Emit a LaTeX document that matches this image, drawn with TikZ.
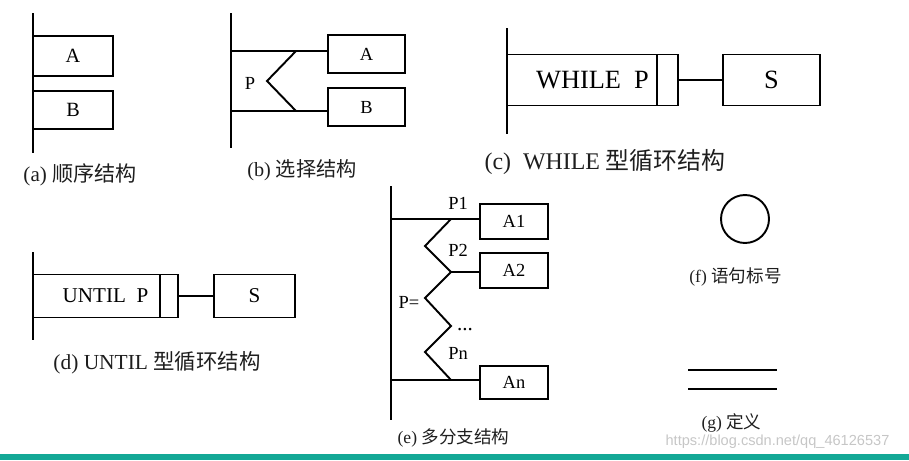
\documentclass[tikz,border=0pt]{standalone}
\usepackage{fontspec}
\setmainfont{Liberation Serif}
\newfontfamily\cjk{Noto Sans CJK SC}
\newfontfamily\wmfont{Liberation Sans}
\usepackage{tikz}
\usetikzlibrary{positioning, calc}
\definecolor{barteal}{RGB}{20,168,150}
\definecolor{inkgray}{RGB}{30,30,30}
\newcommand{\fsz}[1]{\fontsize{#1}{#1}\selectfont}
\tikzset{
	stmtbox/.style={draw, line width=1.1pt, inner sep=0pt, outer sep=0pt, anchor=west},
	flowline/.style={line width=1.1pt},
	caption/.style={inner sep=0pt, text=inkgray},
}

\begin{document}
\begin{tikzpicture}[x=0.02cm, y=-0.02cm]
	\useasboundingbox (0,0) rectangle (909,460);
	% (a) sequence
	\coordinate (a top) at (33,13);
	\coordinate (a bot) at (33,153);
	\draw[flowline] (a top) -- (a bot);
	\node[stmtbox, minimum width=1.6cm, minimum height=0.8cm, font=\fsz{11.5}] (aA) at (33,56) {A};
	\node[stmtbox, minimum width=1.6cm, minimum height=0.76cm, font=\fsz{11.5}] (aB) at (33,110) {B};
	\node[caption, font=\fsz{12}] (a cap) at (80,175) {(a) {\cjk 顺序结构}};
	% (b) selection
	\coordinate (b top) at (231,13);
	\coordinate (b bot) at (231,148);
	\draw[flowline] (b top) -- (b bot);
	\node[stmtbox, minimum width=1.54cm, minimum height=0.76cm, font=\fsz{10.5}] (bA) at (328,54) {A};
	\node[stmtbox, minimum width=1.54cm, minimum height=0.76cm, font=\fsz{10.5}] (bB) at (328,107) {B};
	\coordinate (b l1) at (231,51);
	\coordinate (b l2) at (231,111);
	\coordinate (b k1) at (296,51);
	\coordinate (b k2) at (267,81);
	\coordinate (b k3) at (296,111);
	\draw[flowline] (b l1) -- (b l1 -| bA.west);
	\draw[flowline] (b l2) -- (b l2 -| bB.west);
	\draw[flowline] (b k1) -- (b k2) -- (b k3);
	\node[font=\fsz{10.5}, inner sep=0pt] (bP) at (250,83) {P};
	\node[caption, font=\fsz{11.5}] (b cap) at (302,170) {(b) {\cjk 选择结构}};
	% (c) WHILE loop
	\coordinate (c top) at (507,28);
	\coordinate (c bot) at (507,134);
	\draw[flowline] (c top) -- (c bot);
	\node[stmtbox, minimum width=3.42cm, minimum height=1.02cm, font=\fsz{15}] (cW) at (507,80) {WHILE\ \ P};
	\draw[flowline] ([xshift=-0.42cm]cW.north east) -- ([xshift=-0.42cm]cW.south east);
	\node[stmtbox, minimum width=1.94cm, minimum height=1.02cm, font=\fsz{15}] (cS) at (723,80) {S};
	\draw[flowline] (cW.east) -- (cS.west);
	\node[caption, font=\fsz{13.6}] (c cap) at (605,162) {(c)\ \ WHILE {\cjk 型循环结构}};
	% (d) UNTIL loop
	\coordinate (d top) at (33,252);
	\coordinate (d bot) at (33,340);
	\draw[flowline] (d top) -- (d bot);
	\node[stmtbox, minimum width=2.9cm, minimum height=0.86cm, font=\fsz{12}] (dU) at (33,296) {UNTIL\ \ P};
	\draw[flowline] ([xshift=-0.36cm]dU.north east) -- ([xshift=-0.36cm]dU.south east);
	\node[stmtbox, minimum width=1.62cm, minimum height=0.86cm, font=\fsz{12}] (dS) at (214,296) {S};
	\draw[flowline] (dU.east) -- (dS.west);
	\node[caption, font=\fsz{12.2}] (d cap) at (157,363) {(d)\ UNTIL {\cjk 型循环结构}};
	% (e) multi-branch
	\coordinate (e top) at (391,186);
	\coordinate (e bot) at (391,420);
	\draw[flowline] (e top) -- (e bot);
	\node[stmtbox, minimum width=1.36cm, minimum height=0.7cm, font=\fsz{10.5}] (eA1) at (480,221.5) {A1};
	\node[stmtbox, minimum width=1.36cm, minimum height=0.7cm, font=\fsz{10.5}] (eA2) at (480,270.5) {A2};
	\node[stmtbox, minimum width=1.36cm, minimum height=0.66cm, font=\fsz{10.5}] (eAn) at (480,382.5) {An};
	\coordinate (e l1) at (391,219);
	\coordinate (e l2) at (391,380);
	\coordinate (e k1) at (451,219);
	\coordinate (e k2) at (425,246);
	\coordinate (e k3) at (451,272);
	\coordinate (e k4) at (425,298);
	\coordinate (e k5) at (451,326);
	\coordinate (e k6) at (425,352);
	\coordinate (e k7) at (451,380);
	\draw[flowline] (e l1) -- (e l1 -| eA1.west);
	\draw[flowline] (e k3) -- (e k3 -| eA2.west);
	\draw[flowline] (e l2) -- (e l2 -| eAn.west);
	\draw[flowline] (e k1) -- (e k2) -- (e k3) -- (e k4) -- (e k5) -- (e k6) -- (e k7);
	\node[font=\fsz{10.5}, inner sep=0pt] (eP1) at (458,203) {P1};
	\node[font=\fsz{10.5}, inner sep=0pt] (eP2) at (458,250) {P2};
	\node[font=\fsz{10.5}, inner sep=0pt] (eP) at (409,302) {P=};
	\node[font=\fsz{12}, inner sep=0pt] (edots) at (465,330) {...};
	\node[font=\fsz{10.5}, inner sep=0pt] (ePn) at (458,353) {Pn};
	\node[caption, font=\fsz{10}] (e cap) at (453.5,438) {(e) {\cjk 多分支结构}};
	% (f) statement label
	\node[draw, circle, line width=1.1pt, minimum size=0.96cm, inner sep=0pt] (fC) at (745,219) {};
	\node[caption, font=\fsz{10}] (f cap) at (735.5,277) {(f) {\cjk 语句标号}};
	% (g) definition
	\coordinate (g1l) at (688,370);
	\coordinate (g1r) at (777,370);
	\coordinate (g2l) at (688,389);
	\coordinate (g2r) at (777,389);
	\draw[flowline] (g1l) -- (g1r);
	\draw[flowline] (g2l) -- (g2r);
	\node[caption, font=\fsz{10}] (g cap) at (731.5,423) {(g) {\cjk 定义}};
	% watermark and bottom bar
	\node[inner sep=0pt, text=gray!45, font=\wmfont\fsz{8.3}] (wm) at (777.5,442) {https://blog.csdn.net/qq\_46126537};
	\fill[barteal] (0,454) rectangle (909,460);
\end{tikzpicture}
\end{document}
